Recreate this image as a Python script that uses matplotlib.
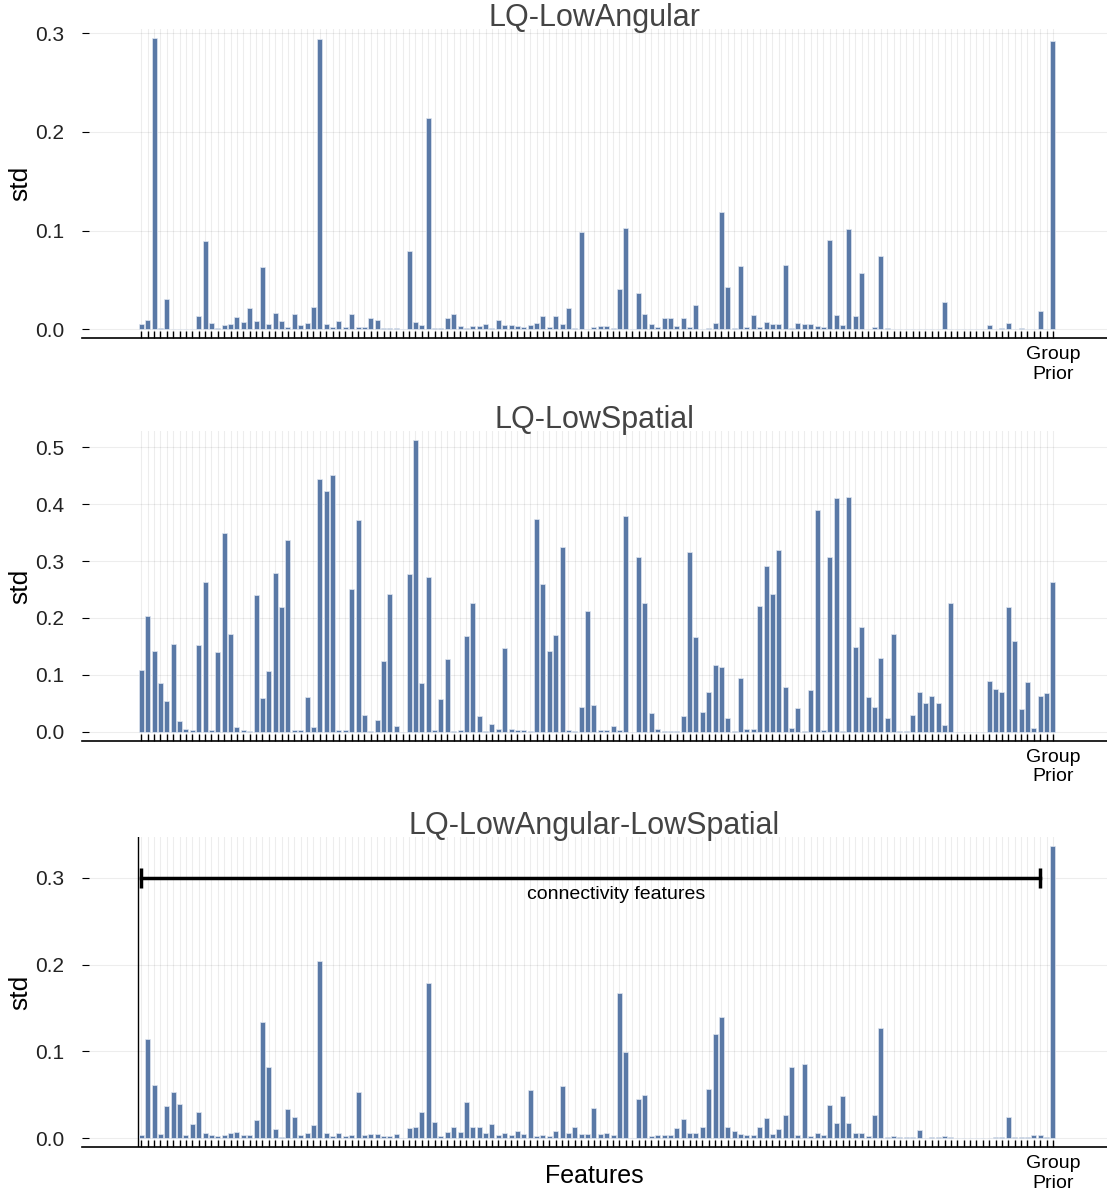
import numpy as np
import matplotlib.pyplot as plt

plt.rcParams["font.family"] = ["Liberation Sans", "DejaVu Sans"]

# per-feature std, 143 connectivity features followed by the group prior
low_angular = [
    0.0057, 0.009, 0.2956, 0.0017, 0.031, 0.0005, 0.0005, 0.0005, 0.0005, 0.0139,
    0.0895, 0.0064, 0.0017, 0.0047, 0.0057, 0.0125, 0.0074, 0.0213, 0.0088, 0.0635,
    0.005, 0.0166, 0.0084, 0.0024, 0.0155, 0.0044, 0.006, 0.0223, 0.2946, 0.005,
    0.0024, 0.0081, 0.0024, 0.0159, 0.0024, 0.0024, 0.0111, 0.009, 0.001, 0.001,
    0.001, 0.0, 0.079, 0.0078, 0.0047, 0.2139, 0.001, 0.001, 0.0115, 0.0159,
    0.0034, 0.0017, 0.0034, 0.0037, 0.0054, 0.001, 0.0095, 0.004, 0.004, 0.0037,
    0.0027, 0.0047, 0.0064, 0.0139, 0.0027, 0.0132, 0.0054, 0.0213, 0.001, 0.0986,
    0.0003, 0.0024, 0.0034, 0.0034, 0.001, 0.0405, 0.103, 0.0, 0.0365, 0.0152,
    0.0057, 0.0027, 0.0111, 0.0115, 0.0034, 0.0111, 0.0027, 0.0243, 0.0007, 0.0014,
    0.0064, 0.1186, 0.0429, 0.0017, 0.0642, 0.0027, 0.0149, 0.0027, 0.0071, 0.0054,
    0.0054, 0.0652, 0.001, 0.0064, 0.0057, 0.005, 0.0034, 0.0024, 0.0902, 0.0149,
    0.004, 0.102, 0.0132, 0.0571, 0.0, 0.0024, 0.0743, 0.001, 0.0005, 0.0005,
    0.0005, 0.0007, 0.0003, 0.0005, 0.0003, 0.0005, 0.0274, 0.0003, 0.0, 0.0,
    0.0, 0.0, 0.0, 0.0044, 0.0005, 0.0014, 0.006, 0.0005, 0.0014, 0.0005,
    0.0005, 0.0186, 0.0, 0.2919,
]

low_spatial = [
    0.108, 0.2027, 0.1418, 0.0855, 0.0539, 0.154, 0.0193, 0.004, 0.003, 0.1517,
    0.263, 0.003, 0.14, 0.3497, 0.171, 0.0088, 0.003, 0.0012, 0.2396, 0.0592,
    0.1066, 0.2783, 0.2197, 0.3368, 0.003, 0.003, 0.061, 0.0082, 0.444, 0.4224,
    0.4517, 0.0023, 0.0035, 0.2507, 0.3714, 0.0293, 0.0018, 0.0199, 0.1248, 0.2414,
    0.01, 0.0, 0.2777, 0.5126, 0.0855, 0.2712, 0.003, 0.0574, 0.127, 0.0018,
    0.003, 0.1687, 0.2267, 0.0275, 0.0012, 0.0129, 0.004, 0.147, 0.004, 0.003,
    0.003, 0.0018, 0.3743, 0.2589, 0.1424, 0.1699, 0.324, 0.003, 0.0012, 0.0434,
    0.2127, 0.0463, 0.003, 0.003, 0.0094, 0.003, 0.379, 0.0, 0.307, 0.2267,
    0.0328, 0.0047, 0.0018, 0.0018, 0.0018, 0.0281, 0.3158, 0.1658, 0.0351, 0.0703,
    0.1166, 0.1137, 0.024, 0.0018, 0.0937, 0.004, 0.004, 0.2209, 0.2906, 0.242,
    0.3187, 0.079, 0.0059, 0.0422, 0.0018, 0.0732, 0.39, 0.0035, 0.307, 0.41,
    0.0012, 0.413, 0.1482, 0.1834, 0.0603, 0.0439, 0.13, 0.0246, 0.1716, 0.0006,
    0.0006, 0.0287, 0.0697, 0.0498, 0.0621, 0.0498, 0.0123, 0.2267, 0.0, 0.0,
    0.0, 0.0, 0.0, 0.0896, 0.0756, 0.0703, 0.2191, 0.1593, 0.0398, 0.0873,
    0.0059, 0.0621, 0.068, 0.2636,
]

low_angular_spatial = [
    0.0035, 0.114, 0.0615, 0.0046, 0.0365, 0.0535, 0.039, 0.004, 0.016, 0.03,
    0.006, 0.004, 0.0023, 0.004, 0.0054, 0.0065, 0.003, 0.004, 0.021, 0.134,
    0.082, 0.01, 0.0008, 0.033, 0.024, 0.003, 0.0054, 0.0146, 0.204, 0.0054,
    0.002, 0.0054, 0.0023, 0.0035, 0.0535, 0.0035, 0.0046, 0.0046, 0.0027, 0.002,
    0.0046, 0.0, 0.011, 0.0127, 0.03, 0.179, 0.019, 0.0023, 0.0065, 0.013,
    0.0065, 0.042, 0.0127, 0.0127, 0.0058, 0.016, 0.0035, 0.0054, 0.0035, 0.0077,
    0.005, 0.0558, 0.0027, 0.003, 0.002, 0.008, 0.0596, 0.0058, 0.013, 0.0046,
    0.0046, 0.035, 0.0046, 0.0054, 0.0035, 0.167, 0.099, 0.0, 0.0446, 0.05,
    0.0023, 0.003, 0.0035, 0.0035, 0.0115, 0.022, 0.0054, 0.0054, 0.0127, 0.057,
    0.1196, 0.1396, 0.0123, 0.0085, 0.005, 0.003, 0.003, 0.0123, 0.0227, 0.0046,
    0.01, 0.027, 0.0815, 0.003, 0.085, 0.0023, 0.0054, 0.0038, 0.0377, 0.0173,
    0.048, 0.017, 0.0054, 0.0054, 0.002, 0.0265, 0.127, 0.0008, 0.002, 0.0008,
    0.0008, 0.0008, 0.009, 0.0, 0.0008, 0.001, 0.0023, 0.0008, 0.0, 0.0,
    0.0, 0.0, 0.0, 0.0005, 0.0008, 0.001, 0.024, 0.0008, 0.0008, 0.0008,
    0.004, 0.003, 0.0008, 0.337,
]

titles = ["LQ-LowAngular", "LQ-LowSpatial", "LQ-LowAngular-LowSpatial"]
yticks = [[0.0, 0.1, 0.2, 0.3], [0.0, 0.1, 0.2, 0.3, 0.4, 0.5], [0.0, 0.1, 0.2, 0.3]]
last_label = "Group\nPrior"

bar_color = "#5a79a6"
W, H = 1107, 1191

n = len(low_angular)
x = np.arange(1, n + 1)
xticklabels = [""] * (n - 1) + [last_label]

# axes boxes in pixels: (left, right, top, bottom)
boxes = [(82, 1107, 28.8, 338.0), (82, 1107, 431.3, 740.5), (82, 1107, 837.0, 1146.8)]
x_left = 1 + (82 - 141.3) / 6.375
x_right = 1 + (1107 - 141.3) / 6.375

fig = plt.figure(figsize=(W / 100, H / 100), dpi=100)

series = [low_angular, low_spatial, low_angular_spatial]
for i, (vals, title, yt, box) in enumerate(zip(series, titles, yticks, boxes)):
    l, r, t, b = box
    ax = fig.add_axes([l / W, 1 - b / H, (r - l) / W, (b - t) / H])
    vals = np.array(vals)
    ax.bar(x, vals, width=0.78, color=bar_color, edgecolor="#dfe6f0", linewidth=0.5, zorder=3)

    vmax = vals.max()
    ax.set_ylim(-0.03 * vmax, 1.03 * vmax)
    ax.set_xlim(x_left, x_right)

    ax.set_xticks(x)
    ax.set_xticklabels(xticklabels, fontsize=14)
    ax.set_yticks(yt)
    ax.set_yticklabels([f"{v:.1f}" for v in yt], fontsize=15, color="#222222")
    ax.tick_params(axis="x", direction="in", length=5, width=1, pad=6)
    ax.tick_params(axis="y", direction="in", length=5, width=0.8, pad=13)

    ax.grid(True, color="#000000", alpha=0.07, linewidth=0.8, zorder=0)
    for side in ["top", "right", "left"]:
        ax.spines[side].set_visible(False)
    ax.spines["bottom"].set_linewidth(1.2)

    ax.set_title(title, fontsize=22, color="#444444", pad=0, y=1 + 3 / (b - t))
    ax.set_ylabel("std", fontsize=19)
    ax.yaxis.label.set_va("center")
    ax.yaxis.set_label_coords(-62 / (r - l), 0.5)

    if i == 2:
        ax.axvline(0.5, color="black", linewidth=1.0, zorder=2)
        ax.plot([1, n - 2], [0.3, 0.3], color="black", linewidth=2.5,
                marker="|", markersize=14, markeredgewidth=2.5, zorder=4)
        ax.text(75.5, 0.281, "connectivity features", fontsize=14,
                ha="center", va="center")
        ax.set_xlabel("Features", fontsize=18)
        ax.xaxis.label.set_va("center")
        ax.xaxis.set_label_coords(0.5, -(1176 - b) / (b - t))

fig.savefig("out.png", dpi=100)
